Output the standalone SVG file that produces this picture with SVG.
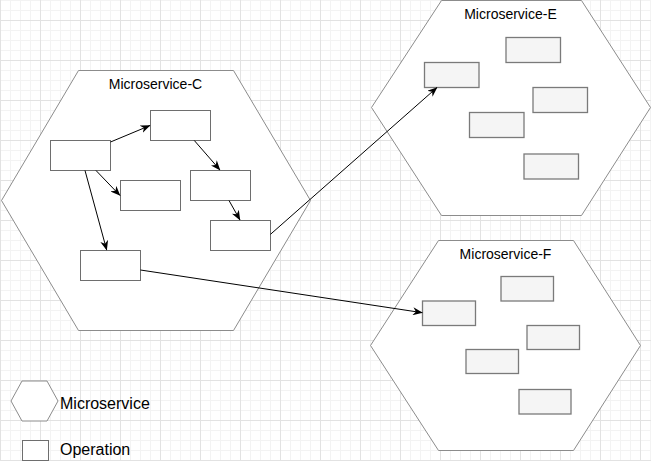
<svg xmlns="http://www.w3.org/2000/svg" width="651" height="461" viewBox="0 0 651 461">
<style>
.hex{fill:#ffffff;stroke:#8c8c8c;stroke-width:1}
.op{fill:#ffffff;stroke:#6e6e6e;stroke-width:1}
.op2{fill:#f5f5f5;stroke:#7a7a7a;stroke-width:1.3}
.lbl{font-family:"Liberation Sans",Arial,Helvetica,sans-serif;font-size:14px;fill:#000;text-anchor:middle}
.leg{font-family:"Liberation Sans",Arial,Helvetica,sans-serif;font-size:16px;fill:#000}
.conn{fill:none;stroke:#000;stroke-width:1;marker-end:url(#arr)}
</style>
<defs>
<pattern id="gmin" width="10" height="10" patternUnits="userSpaceOnUse"><path d="M0.5 0V10M0 0.5H10" stroke="#f3f3f3" stroke-width="1" fill="none"/></pattern>
<pattern id="gmaj" x="0" y="20" width="40" height="40" patternUnits="userSpaceOnUse"><path d="M0.5 0V40M0 0.5H40" stroke="#e2e2e2" stroke-width="1" fill="none"/></pattern>
<marker id="arr" viewBox="0 0 10 8" refX="9.5" refY="4" markerWidth="10" markerHeight="8" markerUnits="userSpaceOnUse" orient="auto"><path d="M0 0L10 4L0 8L3 4Z" fill="#000"/></marker>
</defs>
<rect width="651" height="461" fill="#ffffff"/>
<rect width="651" height="461" fill="url(#gmin)"/>
<rect width="651" height="461" fill="url(#gmaj)"/>

<g id="microservice-c">
<polygon class="hex" points="78.5,70.5 233.5,70.5 310.5,200.5 233.5,330.5 78.5,330.5 1.5,200.5"/>
<text class="lbl" x="155.5" y="89">Microservice-C</text>
</g>
<g id="microservice-e">
<polygon class="hex" points="441.5,0.5 581.5,0.5 650.5,107.5 581.5,215.5 441.5,215.5 371.5,107.5"/>
<text class="lbl" x="510.5" y="19">Microservice-E</text>
</g>
<g id="microservice-f">
<polygon class="hex" points="438.5,240.5 573.5,240.5 640.5,345.5 573.5,450.5 438.5,450.5 370.5,345.5"/>
<text class="lbl" x="505.5" y="259">Microservice-F</text>
</g>

<g id="c-op1"><rect class="op" x="50.5" y="140.5" width="60" height="30"/></g>
<g id="c-op2"><rect class="op" x="150.5" y="110.5" width="60" height="30"/></g>
<g id="c-op3"><rect class="op" x="120.5" y="180.5" width="60" height="30"/></g>
<g id="c-op4"><rect class="op" x="190.5" y="170.5" width="60" height="30"/></g>
<g id="c-op5"><rect class="op" x="210.5" y="220.5" width="60" height="30"/></g>
<g id="c-op6"><rect class="op" x="80.5" y="250.5" width="60" height="30"/></g>

<g id="e-op1"><rect class="op2" x="424.5" y="62.5" width="54.5" height="25"/></g>
<g id="e-op2"><rect class="op2" x="506" y="37.5" width="54.5" height="25"/></g>
<g id="e-op3"><rect class="op2" x="533" y="87.5" width="54.5" height="25"/></g>
<g id="e-op4"><rect class="op2" x="469.5" y="112.5" width="54.5" height="25"/></g>
<g id="e-op5"><rect class="op2" x="524" y="154" width="54.5" height="25"/></g>

<g id="f-op1"><rect class="op2" x="422.5" y="301" width="53" height="24.5"/></g>
<g id="f-op2"><rect class="op2" x="501" y="276.5" width="52.5" height="24.5"/></g>
<g id="f-op3"><rect class="op2" x="527" y="325.5" width="52.5" height="24"/></g>
<g id="f-op4"><rect class="op2" x="466" y="349.5" width="52.5" height="24"/></g>
<g id="f-op5"><rect class="op2" x="519" y="389.5" width="52" height="24.5"/></g>

<g id="connectors">
<line class="conn" x1="110.5" y1="142" x2="150" y2="125.5"/>
<line class="conn" x1="96" y1="170.5" x2="120" y2="195.5"/>
<line class="conn" x1="85" y1="170.5" x2="106.7" y2="250"/>
<line class="conn" x1="194.3" y1="140.5" x2="220" y2="170"/>
<line class="conn" x1="229" y1="200.5" x2="240" y2="220"/>
<line class="conn" x1="270.5" y1="234.3" x2="437" y2="87.5"/>
<line class="conn" x1="140.5" y1="270" x2="422.3" y2="312.7"/>
</g>

<g id="legend-microservice">
<polygon class="hex" points="22,381 47,381 58,401 47,421 22,421 11,401"/>
<text class="leg" x="60" y="409">Microservice</text>
</g>
<g id="legend-operation">
<rect class="op" x="22.5" y="440.5" width="26" height="20"/>
<text class="leg" x="60" y="455">Operation</text>
</g>
</svg>
